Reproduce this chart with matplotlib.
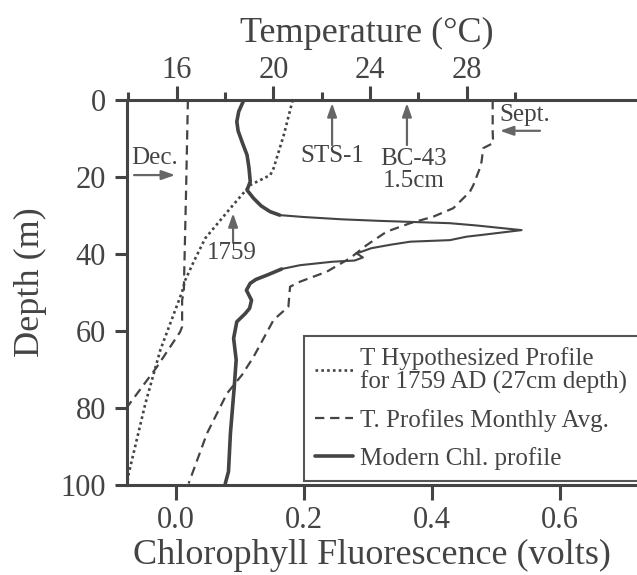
import matplotlib
matplotlib.use('Agg')
import matplotlib.pyplot as plt

plt.rcParams['font.family'] = ['Liberation Serif', 'DejaVu Serif']

INK = '#444444'
ARROW = '#666666'

# modern chlorophyll profile (volts vs depth m)
chl_depth = [0, 3, 5.6, 8, 10.8, 14.3, 17.6, 21.2, 23.4, 25.5, 27.5, 29.0, 29.9,
             30.4, 31.0, 31.4, 32.0, 32.6, 33.8, 35.0, 35.5, 36.4, 36.8, 37.6,
             38.5, 39.4, 39.8, 40.9, 41.7, 42.0, 42.9, 43.9, 45.5, 46.6, 47.6,
             49.4, 52.0, 54.1, 55.5, 57.6, 61.9, 67.5, 74.5, 86.6, 96.5, 99.6]
chl_volts = [0.106, 0.098, 0.095, 0.097, 0.103, 0.111, 0.114, 0.116, 0.111, 0.121,
             0.133, 0.147, 0.162, 0.200, 0.260, 0.319, 0.428, 0.470, 0.540, 0.480,
             0.454, 0.428, 0.366, 0.335, 0.305, 0.290, 0.282, 0.292, 0.279, 0.245,
             0.194, 0.165, 0.142, 0.125, 0.116, 0.110, 0.118, 0.115, 0.108, 0.095,
             0.090, 0.094, 0.091, 0.085, 0.082, 0.077]

# hypothesized 1759 AD temperature profile
t1759_depth = [0, 9.1, 17.7, 19.5, 22.1, 28.1, 35.9, 42.0, 46.8, 49.8, 64.9, 78.8, 97.0, 100]
t1759_temp = [20.8, 20.43, 20.01, 19.87, 19.04, 18.22, 17.18, 16.70, 16.35, 16.22,
              15.32, 14.70, 14.01, 13.94]

# monthly average profiles
dec_depth = [0, 24.7, 49.8, 52.0, 58.9, 60.2, 69.3, 79.7]
dec_temp = [16.46, 16.38, 16.29, 16.22, 16.22, 16.14, 15.18, 13.95]

sep_depth = [0, 8.2, 11.2, 12.5, 16.0, 17.7, 22.1, 23.8, 28.1, 30.3, 32.0, 34.2,
             37.7, 41.1, 44.6, 47.2, 48.5, 53.7, 57.1, 66.7, 71.4, 76.2, 86.6, 99.6]
sep_temp = [29.08, 29.08, 29.1, 28.69, 28.62, 28.55, 28.28, 28.14, 27.45, 26.62,
            25.66, 24.69, 23.86, 23.17, 22.21, 21.10, 20.69, 20.62, 20.01, 19.18,
            18.70, 18.08, 17.25, 16.49]

chl_ticks = [0.0, 0.2, 0.4, 0.6]
depth_ticks = [0, 20, 40, 60, 80, 100]
temp_major = [16, 20, 24, 28]
temp_minor = [14, 18, 22, 26, 30]


def main():
    fig = plt.figure(figsize=(6.37, 5.75), dpi=100)
    ax = fig.add_axes([127 / 637, 90 / 575, 573 / 637, 385 / 575])
    ax2 = ax.twiny()

    ax.set_xlim(-0.0766, 0.8188)
    ax.set_ylim(100, 0)
    ax2.set_xlim(13.938, 37.665)

    # chlorophyll: thin across the peak, thicker elsewhere
    ax.plot(chl_volts, chl_depth, color=INK, lw=1.5, solid_capstyle='round')
    ax.plot(chl_volts[:13], chl_depth[:13], color=INK, lw=2.6, solid_capstyle='round')
    solid, = ax.plot(chl_volts[31:], chl_depth[31:], color=INK, lw=2.6,
                     solid_capstyle='round')

    dotted, = ax2.plot(t1759_temp, t1759_depth, color=INK, lw=1.9,
                       dashes=(1.0, 1.2))
    dashed, = ax2.plot(dec_temp, dec_depth, color=INK, lw=1.6, dashes=(4.2, 2.6))
    ax2.plot(sep_temp, sep_depth, color=INK, lw=1.6, dashes=(4.2, 2.6))

    # spines and ticks
    for s in ['top', 'right']:
        ax.spines[s].set_visible(False)
    for s in ['bottom', 'left', 'right']:
        ax2.spines[s].set_visible(False)
    for s in ['bottom', 'left']:
        ax.spines[s].set_linewidth(2.2)
        ax.spines[s].set_color(INK)
    ax2.spines['top'].set_linewidth(2.2)
    ax2.spines['top'].set_color(INK)

    ax.set_xticks(chl_ticks)
    ax.set_xticklabels([f'{v:.1f}' for v in chl_ticks])
    ax.set_yticks(depth_ticks)
    ax.tick_params(axis='x', length=11, width=2.2, color=INK, labelsize=22,
                   labelcolor=INK, pad=4)
    ax.tick_params(axis='y', length=9, width=2.2, color=INK, labelsize=22,
                   labelcolor=INK, pad=6)

    ax2.set_xticks(temp_major)
    ax2.set_xticks(temp_minor, minor=True)
    ax2.tick_params(axis='x', which='major', length=10, width=2.2, color=INK,
                    labelsize=22, labelcolor=INK, pad=1)
    ax2.tick_params(axis='x', which='minor', length=6, width=2.2, color=INK)

    ax.set_xlabel('Chlorophyll Fluorescence (volts)', fontsize=26, color=INK)
    ax.xaxis.set_label_coords(0.4276, -0.14)
    ax.set_ylabel('Depth (m)', fontsize=26, color=INK)
    ax.yaxis.set_label_coords(-0.14, 0.527)
    ax2.set_xlabel('Temperature (\u00b0C)', fontsize=26, color=INK)
    ax2.xaxis.set_label_coords(0.419, 1.15)

    # annotations (temperature, depth)
    arr = dict(arrowstyle='-|>,head_length=0.8,head_width=0.28', color=ARROW,
               lw=1.6, shrinkA=0, shrinkB=0)
    ax2.annotate('', xy=(22.43, 0.8), xytext=(22.43, 11.7), arrowprops=arr)
    ax2.text(22.43, 14.5, 'STS-1', fontsize=18, color=INK, ha='center', va='center')
    ax2.annotate('', xy=(25.53, 0.8), xytext=(25.53, 11.7), arrowprops=arr)
    ax2.text(25.8, 18.2, 'BC-43\n1.5cm', fontsize=18, color=INK, ha='center',
             va='center', linespacing=1.0)
    ax2.annotate('', xy=(29.38, 8.0), xytext=(31.04, 8.0), arrowprops=arr)
    ax2.text(30.42, 3.9, 'Sept.', fontsize=18, color=INK, ha='center', va='center')
    ax2.annotate('', xy=(15.93, 19.5), xytext=(14.23, 19.5), arrowprops=arr)
    ax2.text(15.1, 15.0, 'Dec.', fontsize=18, color=INK, ha='center', va='center')
    ax2.annotate('', xy=(18.33, 29.4), xytext=(18.33, 37.1), arrowprops=arr)
    ax2.text(18.29, 39.7, '1759', fontsize=18, color=INK, ha='center', va='center')

    leg = ax2.legend([dotted, dashed, solid],
                     ['T Hypothesized Profile\nfor 1759 AD (27cm depth)',
                      'T. Profiles Monthly Avg.', 'Modern Chl. profile'],
                     loc='upper left', bbox_to_anchor=(0.309, 0.387, 0.691, 0.0),
                     mode='expand', borderaxespad=0, fontsize=18, frameon=True,
                     fancybox=False, framealpha=1, edgecolor='#555555',
                     handlelength=1.5, handletextpad=0.3, borderpad=0.45,
                     labelspacing=0.6)
    leg.get_frame().set_linewidth(1.5)
    for t in leg.get_texts():
        t.set_color(INK)
        t.set_linespacing(1.0)

    fig.savefig('out.png', dpi=100)


if __name__ == "__main__":
    main()
